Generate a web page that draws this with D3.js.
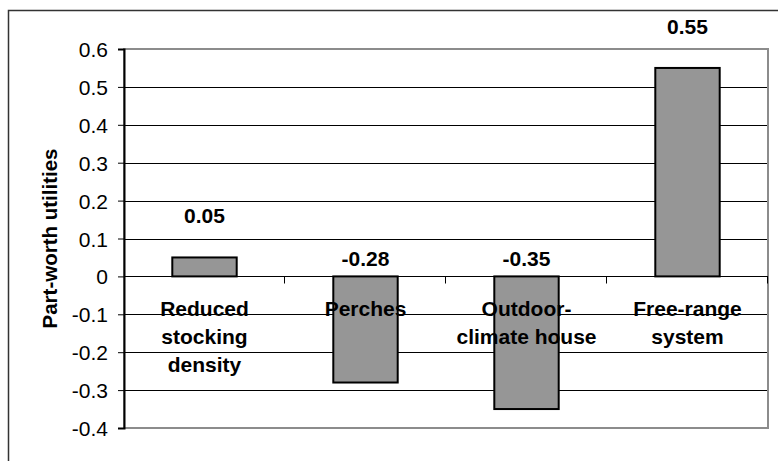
<!DOCTYPE html>
<html>
<head>
<meta charset="utf-8">
<script src="https://cdn.jsdelivr.net/npm/d3@7"></script>
<style>
  html, body { margin: 0; padding: 0; background: #fff; }
  svg { display: block; }
  text { font-family: Arial, "Liberation Sans", sans-serif; fill: #000; }
</style>
</head>
<body>
<svg id="chart" width="778" height="461"></svg>
<script>
// Part-worth utilities of housing attributes
const categories = [
  ["Reduced", "stocking", "density"],
  ["Perches"],
  ["Outdoor-", "climate house"],
  ["Free-range", "system"]
];
const values = [0.05, -0.28, -0.35, 0.55];
const valueLabels = ["0.05", "-0.28", "-0.35", "0.55"];
const yTicks = [0.6, 0.5, 0.4, 0.3, 0.2, 0.1, 0, -0.1, -0.2, -0.3, -0.4];
const yTickLabels = ["0.6", "0.5", "0.4", "0.3", "0.2", "0.1", "0", "-0.1", "-0.2", "-0.3", "-0.4"];
const yTitle = "Part-worth utilities";

const svg = d3.select("#chart");
const plot = { left: 124, right: 768, top: 49, bottom: 428 };

// outer frame
svg.append("rect")
  .attr("x", 8.5).attr("y", 10.5)
  .attr("width", 790).attr("height", 470)
  .attr("fill", "none").attr("stroke", "#333").attr("stroke-width", 1.5);

const y = d3.scaleLinear().domain([-0.4, 0.6]).range([plot.bottom, plot.top]);
const x = d3.scaleBand().domain(d3.range(categories.length))
  .range([plot.left, plot.right]).padding(0);

// horizontal gridlines
svg.append("g").selectAll("line")
  .data(yTicks.filter(t => t !== 0.6 && t !== -0.4))
  .join("line")
  .attr("x1", plot.left).attr("x2", plot.right)
  .attr("y1", d => Math.round(y(d)) + 0.5).attr("y2", d => Math.round(y(d)) + 0.5)
  .attr("stroke", "#000").attr("stroke-width", 1);

// plot area border
svg.append("rect")
  .attr("x", plot.left).attr("y", plot.top)
  .attr("width", plot.right - plot.left).attr("height", plot.bottom - plot.top)
  .attr("fill", "none").attr("stroke", "#8c8c8c").attr("stroke-width", 2);

// value axis
const yAxis = d3.axisLeft(y).tickValues(yTicks)
  .tickFormat((d, i) => yTickLabels[i])
  .tickSize(6).tickPadding(10);
const gy = svg.append("g").attr("transform", `translate(${plot.left},0)`).call(yAxis);
gy.select(".domain").attr("stroke", "#000").attr("stroke-width", 2);
gy.selectAll(".tick line").attr("stroke", "#000");
gy.selectAll(".tick text")
  .style("font-size", "21px").style("font-family", "Arial, 'Liberation Sans', sans-serif")
  .attr("dy", "0.36em");

// axis title
svg.append("text")
  .attr("transform", `translate(57,${(plot.top + plot.bottom) / 2}) rotate(-90)`)
  .attr("text-anchor", "middle")
  .style("font-size", "20.5px").style("font-weight", "bold")
  .text(yTitle);

// bars
const barW = x.bandwidth() * 0.4;
svg.append("g").selectAll("rect")
  .data(values)
  .join("rect")
  .attr("x", (d, i) => x(i) + (x.bandwidth() - barW) / 2)
  .attr("y", d => y(Math.max(0, d)))
  .attr("width", barW)
  .attr("height", d => Math.abs(y(d) - y(0)))
  .attr("fill", "#969696").attr("stroke", "#000").attr("stroke-width", 2);

// category axis on the zero line
const y0 = Math.round(y(0)) + 0.5;
svg.append("line")
  .attr("x1", plot.left).attr("x2", plot.right)
  .attr("y1", y0).attr("y2", y0)
  .attr("stroke", "#000").attr("stroke-width", 1);
const bounds = d3.range(categories.length + 1).map(i => plot.left + i * x.step());
svg.append("g").selectAll("line")
  .data(bounds.slice(1))
  .join("line")
  .attr("x1", d => Math.round(d) - 0.5).attr("x2", d => Math.round(d) - 0.5)
  .attr("y1", y0).attr("y2", y0 + 7)
  .attr("stroke", "#000");

// category labels
const catG = svg.append("g");
categories.forEach((lines, i) => {
  const t = catG.append("text")
    .attr("text-anchor", "middle")
    .style("font-size", "21px").style("font-weight", "bold");
  lines.forEach((ln, j) => {
    t.append("tspan")
      .attr("x", x(i) + x.bandwidth() / 2)
      .attr("y", y(0) + 40 + j * 28)
      .text(ln);
  });
});

// value labels
svg.append("g").selectAll("text")
  .data(values)
  .join("text")
  .attr("x", (d, i) => x(i) + x.bandwidth() / 2)
  .attr("y", d => d >= 0 ? y(d) - 34 : y(0) - 10)
  .attr("text-anchor", "middle")
  .style("font-size", "21px").style("font-weight", "bold")
  .text((d, i) => valueLabels[i]);
</script>
</body>
</html>
